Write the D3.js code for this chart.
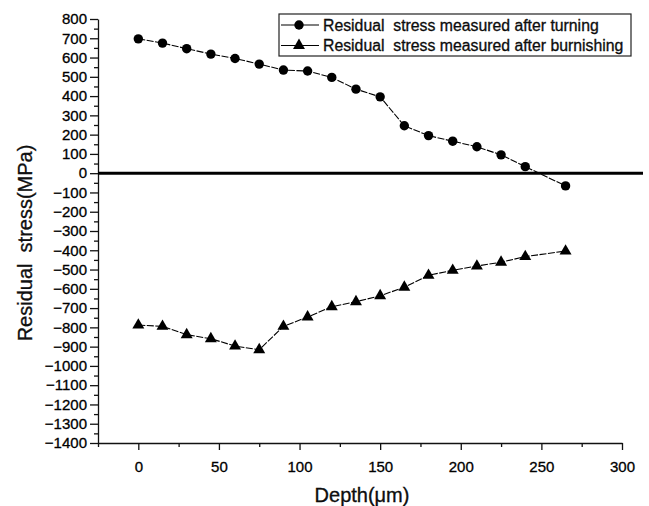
<!DOCTYPE html>
<html>
<head>
<meta charset="utf-8">
<script src="https://cdn.jsdelivr.net/npm/d3@7"></script>
<style>
  html, body { margin: 0; padding: 0; background: #fff; }
  svg { display: block; font-family: "Liberation Sans", Arial, sans-serif; }
  text { white-space: pre; stroke: #000; stroke-width: 0.3px; }
</style>
</head>
<body>
<svg id="chart" width="649" height="506"></svg>
<script>
// Depth positions (µm) where residual stress was measured
const depths = [0, 15, 30, 45, 60, 75, 90, 105, 120, 135, 150, 165, 180, 195, 210, 225, 240, 265];
// Residual stress (MPa) after turning
const turning = [697, 675, 646, 618, 595, 566, 535, 530, 497, 436, 396, 246, 195, 166, 137, 95, 34, -66];
// Residual stress (MPa) after burnishing
const burnishing = [-788, -795, -838, -859, -897, -916, -795, -746, -693, -667, -636, -592, -530, -504, -482, -462, -433, -404];

const seriesNames = ["Residual  stress measured after turning", "Residual  stress measured after burnishing"];
const xTicks = [0, 50, 100, 150, 200, 250, 300];
const yTicks = d3.range(-1400, 801, 100);

const svg = d3.select("#chart");
const x = d3.scaleLinear().domain([-25, 300]).range([98, 622]);
const y = d3.scaleLinear().domain([-1400, 800]).range([443, 19]);

// Axis line and ticks (major labelled, minor unlabelled)
svg.append("g").attr("class", "ax").attr("transform", `translate(${x(-25)},0)`)
  .call(d3.axisLeft(y).tickValues(yTicks).tickSize(8).tickPadding(3).tickSizeOuter(0).tickFormat(d3.format("d")));
svg.append("g").attr("class", "ax").attr("transform", `translate(${x(-25)},0)`)
  .call(d3.axisLeft(y).tickValues(d3.range(-1350, 800, 100)).tickSize(4).tickFormat("").tickSizeOuter(0))
  .select(".domain").remove();

svg.append("g").attr("class", "ax").attr("transform", `translate(0,${y(-1400)})`)
  .call(d3.axisBottom(x).tickValues(xTicks).tickSize(7).tickPadding(11).tickSizeOuter(0).tickFormat(d3.format("d")));
svg.append("g").attr("class", "ax").attr("transform", `translate(0,${y(-1400)})`)
  .call(d3.axisBottom(x).tickValues([-25, 25, 75, 125, 175, 225, 275]).tickSize(4).tickFormat("").tickSizeOuter(0))
  .select(".domain").remove();

svg.selectAll(".ax .tick text").attr("font-size", 15).attr("fill", "#000")
  .attr("font-family", '"Liberation Sans", Arial, sans-serif');
svg.selectAll(".ax .domain, .ax .tick line").attr("stroke", "#111").attr("stroke-width", 1.3);

// Zero reference line
svg.append("line")
  .attr("x1", x(-25)).attr("x2", 643)
  .attr("y1", y(0)).attr("y2", y(0))
  .attr("stroke", "#000").attr("stroke-width", 3);

// Axis titles
svg.append("text")
  .attr("x", 362).attr("y", 502)
  .attr("text-anchor", "middle").attr("font-size", 20).attr("fill", "#111")
  .text("Depth(μm)");
svg.append("text")
  .attr("transform", `translate(32,243) rotate(-90)`)
  .attr("text-anchor", "middle").attr("font-size", 20).attr("fill", "#111")
  .text("Residual  stress(MPa)");

// Series
const line = d3.line().x(d => x(d[0])).y(d => y(d[1]));
const tri = d3.symbol().type(d3.symbolTriangle).size(62);

const turnPts = depths.map((d, i) => [d, turning[i]]);
const burnPts = depths.map((d, i) => [d, burnishing[i]]);

svg.append("path").datum(turnPts).attr("d", line)
  .attr("fill", "none").attr("stroke", "#000").attr("stroke-width", 1.1)
  .attr("stroke-dasharray", "7,1.5");
svg.append("path").datum(burnPts).attr("d", line)
  .attr("fill", "none").attr("stroke", "#000").attr("stroke-width", 1.1)
  .attr("stroke-dasharray", "7,1.5");

svg.selectAll(".dot").data(turnPts).join("circle")
  .attr("class", "dot").attr("cx", d => x(d[0])).attr("cy", d => y(d[1]))
  .attr("r", 4.7).attr("fill", "#000");
svg.selectAll(".tri").data(burnPts).join("path")
  .attr("class", "tri").attr("d", tri)
  .attr("transform", d => `translate(${x(d[0])},${y(d[1])})`).attr("fill", "#000");

// Legend
const lg = svg.append("g");
lg.append("rect").attr("x", 279).attr("y", 14).attr("width", 352).attr("height", 42)
  .attr("fill", "#fff").attr("stroke", "#222").attr("stroke-width", 1.2);
[0, 1].forEach(i => {
  const cy = 25 + i * 20.5;
  lg.append("line").attr("x1", 281).attr("x2", 319).attr("y1", cy).attr("y2", cy)
    .attr("stroke", "#000").attr("stroke-width", 1.1);
  if (i === 0) {
    lg.append("circle").attr("cx", 299).attr("cy", cy).attr("r", 4.7).attr("fill", "#000");
  } else {
    lg.append("path").attr("d", tri).attr("transform", `translate(299,${cy})`).attr("fill", "#000");
  }
  lg.append("text").attr("x", 323).attr("y", cy + 5.5).attr("font-size", 15.8).attr("fill", "#111")
    .text(seriesNames[i]);
});
</script>
</body>
</html>
